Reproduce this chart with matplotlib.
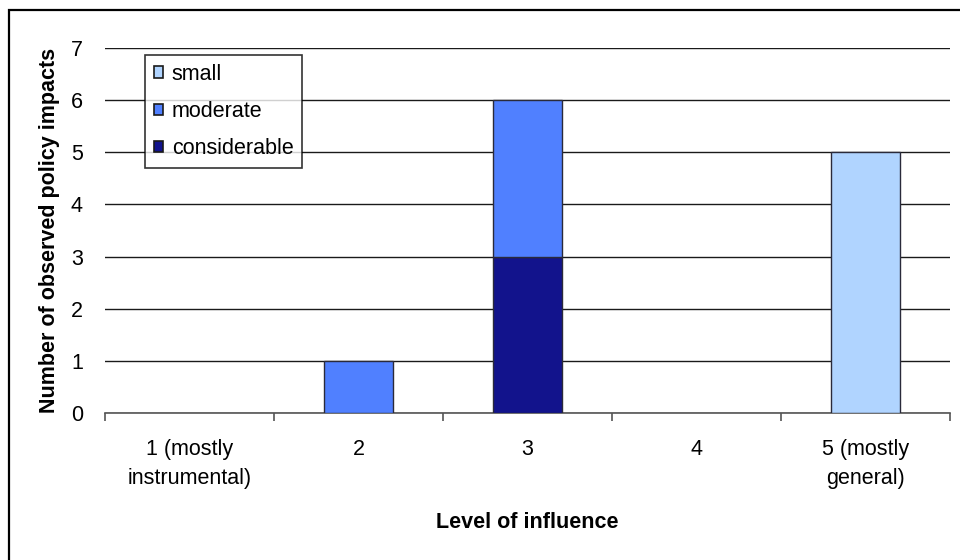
import numpy as np
import matplotlib
matplotlib.use('Agg')
import matplotlib.pyplot as plt
from matplotlib.patches import Rectangle

plt.rcParams['font.family'] = ['Liberation Sans', 'DejaVu Sans']

categories = ['1 (mostly\ninstrumental)', '2', '3', '4', '5 (mostly\ngeneral)']
small = [0, 0, 0, 0, 5]
moderate = [0, 1, 3, 0, 0]
considerable = [0, 0, 3, 0, 0]

colors = {
    'small': '#B0D4FF',
    'moderate': '#5080FF',
    'considerable': '#12138C',
}

FS = 15.5


def stacked_bar(ax, x, heights, bottom, color, width=0.41):
    heights = np.asarray(heights)
    # empty segments get no outline so nothing shows on the axis line
    lw = np.where(heights > 0, 1.0, 0.0)
    return ax.bar(x, heights, width, bottom=bottom, color=color,
                  edgecolor='#2a2a3a', linewidth=lw, zorder=3)


def main():
    fig = plt.figure(figsize=(9.6, 5.6), dpi=100)
    ax = fig.add_axes([105 / 960, 1 - 413 / 560, 845 / 960, 365 / 560])

    x = np.arange(len(categories))
    cons = np.array(considerable)
    mod = np.array(moderate)
    sm = np.array(small)
    b_cons = stacked_bar(ax, x, cons, 0, colors['considerable'])
    b_mod = stacked_bar(ax, x, mod, cons, colors['moderate'])
    b_sm = stacked_bar(ax, x, sm, cons + mod, colors['small'])

    ax.set_xlim(-0.5, len(categories) - 0.5)
    ax.set_ylim(0, 7)
    ax.set_yticks(range(8))
    ax.yaxis.grid(True, color='#1a1a1a', linewidth=1.0, zorder=0)
    ax.set_axisbelow(True)

    for side in ('left', 'right', 'top'):
        ax.spines[side].set_visible(False)
    ax.spines['bottom'].set_color('#555555')
    ax.spines['bottom'].set_linewidth(1.2)

    ax.set_xticks(x)
    ax.set_xticklabels(categories, fontsize=FS, linespacing=1.45)
    ax.set_xticks(np.arange(-0.5, len(categories)), minor=True)
    ax.tick_params(axis='x', which='major', length=0, pad=19)
    ax.tick_params(axis='x', which='minor', length=6, width=1.2,
                   color='#555555')
    ax.tick_params(axis='y', length=0, pad=16, labelsize=FS)

    ax.set_xlabel('Level of influence', fontsize=FS, fontweight='bold',
                  labelpad=17)
    ax.set_ylabel('Number of observed policy impacts', fontsize=FS,
                  fontweight='bold', labelpad=8)

    leg = ax.legend([b_sm, b_mod, b_cons], ['small', 'moderate', 'considerable'],
                    loc='upper left', bbox_to_anchor=(145 / 960, 1 - 55 / 560),
                    bbox_transform=fig.transFigure, fontsize=FS,
                    frameon=True, fancybox=False, edgecolor='black',
                    handlelength=0.45, handleheight=0.45, handletextpad=0.4,
                    labelspacing=0.76, borderpad=0.4, borderaxespad=0)
    for handle in leg.legend_handles:
        handle.set_edgecolor('#1a1a1a')
        handle.set_linewidth(1.2)
    leg.get_frame().set_linewidth(1.2)
    leg.set_zorder(5)

    # frame around the whole chart (right and bottom edges fall off the canvas)
    fig.patches.append(Rectangle((8.5 / 960, -0.1), 1.2, 1 - 9.5 / 560 + 0.1,
                                 transform=fig.transFigure, fill=False,
                                 edgecolor='black', linewidth=1.6))

    fig.savefig('out.png', dpi=100)


if __name__ == '__main__':
    main()
